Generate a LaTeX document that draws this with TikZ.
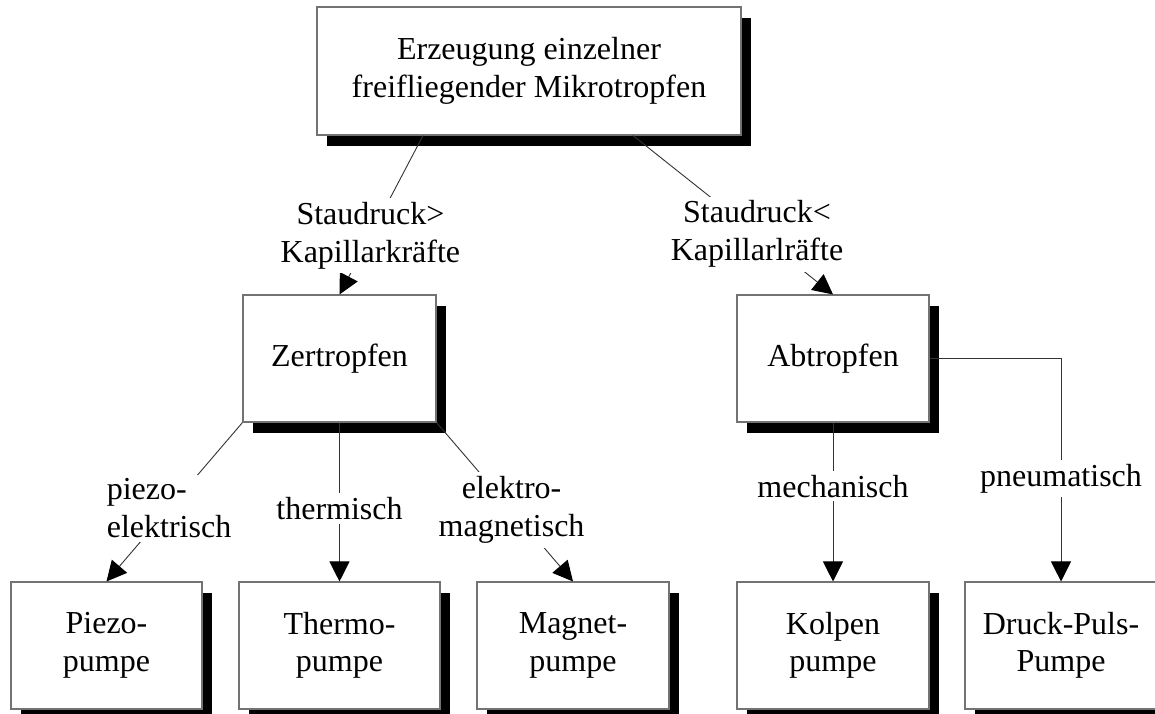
\documentclass[tikz,border=0pt]{standalone}
\usepackage{fontspec}
\setmainfont{Liberation Serif}
\usetikzlibrary{arrows.meta,shadows}

\begin{document}
\begin{tikzpicture}[x=1pt,y=-1pt,->,>={Triangle[length=20pt,width=20pt,color=black]},
  line width=0.9pt,every edge/.append style={draw=black!80},
  main node/.style={rectangle,draw=black!55,line width=1.1pt,fill=white,align=center,
    minimum height=127pt,inner sep=0pt,font=\fontsize{32}{37.5}\selectfont,
    drop shadow={shadow xshift=10pt,shadow yshift=-11pt,fill=black,opacity=1}},
  edge label/.style={fill=white,inner sep=4pt,align=center,font=\fontsize{32}{38}\selectfont}]
  \useasboundingbox (0,0) rectangle (1155,713);
  \node[main node,minimum width=424pt,minimum height=128pt] (1) at (529,71) {Erzeugung einzelner\\freifliegender Mikrotropfen};
  \node[main node,minimum width=193pt] (2) at (339.5,358.5) {Zertropfen};
  \node[main node,minimum width=192pt] (3) at (833,358.5) {Abtropfen};
  \node[main node,minimum width=191pt] (4) at (106.5,645.5) {Piezo-\\pumpe};
  \node[main node,minimum width=201pt] (5) at (339.5,645.5) {Thermo-\\pumpe};
  \node[main node,minimum width=192pt] (6) at (573,645.5) {Magnet-\\pumpe};
  \node[main node,minimum width=192pt] (7) at (833,645.5) {Kolpen\\pumpe};
  \node[main node,minimum width=192pt] (8) at (1061,645.5) {Druck-Puls-\\Pumpe};
  \path
    ([xshift=-106pt]1.south) edge node[edge label,pos=0.63] {Staudruck>\\Kapillarkräfte} (2.north)
    ([xshift=104pt]1.south) edge node[edge label,pos=0.62] {Staudruck<\\Kapillarlräfte} (3.north)
    (2.south west) edge node[edge label,align=left,pos=0.54] {piezo-\\elektrisch} (4.north)
    (2) edge node[edge label,pos=0.54] {thermisch} (5)
    (2.south east) edge node[edge label,pos=0.55] {elektro-\\magnetisch} (6.north)
    (3) edge node[edge label,pos=0.4] {mechanisch} (7);
  \draw[draw=black!80] (3) -| node[edge label,pos=0.77] {pneumatisch} (8);
\end{tikzpicture}
\end{document}
